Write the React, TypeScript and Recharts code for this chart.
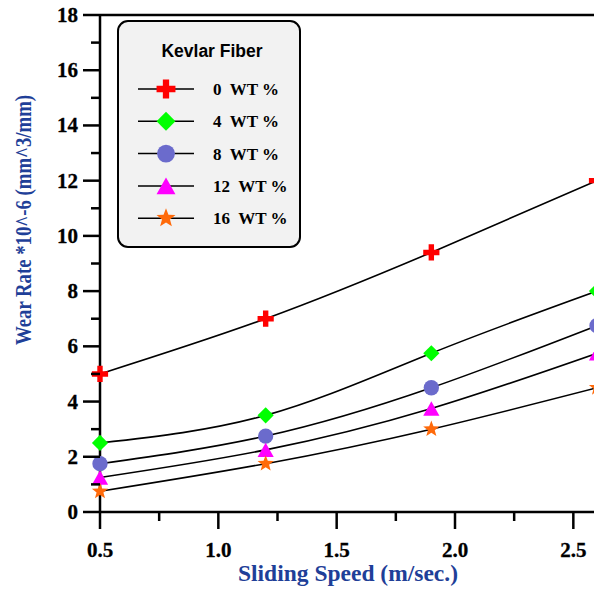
import React from 'react';
import { LineChart, Line, XAxis, YAxis, ReferenceLine, Legend } from 'recharts';

const xValues = [0.5, 1.2, 1.9, 2.6];
const wt0 = [5, 7, 9.4, 12];
const wt4 = [2.5, 3.5, 5.75, 8];
const wt8 = [1.75, 2.75, 4.5, 6.75];
const wt12 = [1.25, 2.25, 3.75, 5.75];
const wt16 = [0.75, 1.75, 3.0, 4.5];
const seriesKeys = ['wt0', 'wt4', 'wt8', 'wt12', 'wt16'];
const seriesNames = ['0  WT %', '4  WT %', '8  WT %', '12  WT %', '16  WT %'];
const seriesColors = ['#ff0000', '#00ff00', '#6b6bcc', '#ff00ff', '#ff6a0a'];
const seriesMarkers = ['cross', 'diamond', 'circle', 'triangle', 'star'];
const xTicks = [0.5, 0.75, 1.0, 1.25, 1.5, 1.75, 2.0, 2.25, 2.5];
const yTicks = [0, 1, 2, 3, 4, 5, 6, 7, 8, 9, 10, 11, 12, 13, 14, 15, 16, 17, 18];
const legendTitle = 'Kevlar Fiber';
const xTitle = 'Sliding Speed (m/sec.)';
const yTitle = 'Wear Rate *10^-6 (mm^3/mm)';

const allSeries = [wt0, wt4, wt8, wt12, wt16];
const data = xValues.map((x, i) => {
  const row: any = { x };
  seriesKeys.forEach((k, j) => { row[k] = allSeries[j][i]; });
  return row;
});

const SERIF = '"Liberation Serif", "Times New Roman", serif';
const SANS = '"Liberation Sans", Arial, sans-serif';
const BLUE = '#1f3f98';

function Marker({ kind, cx, cy, color, s = 1 }: any) {
  if (cx == null || cy == null) return null;
  if (kind === 'cross') {
    const a = 9 * s, t = 3 * s;
    return (
      <path
        d={`M${cx - t},${cy - a}H${cx + t}V${cy - t}H${cx + a}V${cy + t}H${cx + t}V${cy + a}H${cx - t}V${cy + t}H${cx - a}V${cy - t}H${cx - t}Z`}
        fill={color}
      />
    );
  }
  if (kind === 'diamond') {
    const r = 9 * s;
    return <path d={`M${cx},${cy - r}L${cx + r},${cy}L${cx},${cy + r}L${cx - r},${cy}Z`} fill={color} />;
  }
  if (kind === 'circle') {
    return <circle cx={cx} cy={cy} r={8.5 * s} fill={color} />;
  }
  if (kind === 'triangle') {
    const w = 9 * s, h = 8 * s;
    return <path d={`M${cx},${cy - h}L${cx + w},${cy + h}L${cx - w},${cy + h}Z`} fill={color} />;
  }
  const ro = 9.5 * s, ri = 4 * s;
  let d = '';
  for (let i = 0; i < 10; i++) {
    const r = i % 2 === 0 ? ro : ri;
    const ang = -Math.PI / 2 + (i * Math.PI) / 5;
    d += `${i === 0 ? 'M' : 'L'}${cx + r * Math.cos(ang)},${cy + r * Math.sin(ang)}`;
  }
  return <path d={d + 'Z'} fill={color} />;
}

const XTick = (props: any) => {
  const { x, y, payload } = props;
  const v = payload.value;
  const major = Math.abs(v * 2 - Math.round(v * 2)) < 1e-6;
  return (
    <g>
      <line x1={x} x2={x} y1={y} y2={y + (major ? 17 : 9)} stroke="#000" strokeWidth={2.5} />
      {major && (
        <text x={x} y={y + 45} textAnchor="middle" fontFamily={SERIF} fontWeight="bold" fontSize={21} fill="#000" stroke="#000" strokeWidth={0.3}>
          {v.toFixed(1)}
        </text>
      )}
    </g>
  );
};

const YTick = (props: any) => {
  const { x, y, payload } = props;
  const v = payload.value;
  const major = v % 2 === 0;
  return (
    <g>
      <line x1={x - (major ? 17 : 9)} x2={x} y1={y} y2={y} stroke="#000" strokeWidth={2.5} />
      {major && (
        <text x={x - 22} y={y + 7} textAnchor="end" fontFamily={SERIF} fontWeight="bold" fontSize={21} fill="#000" stroke="#000" strokeWidth={0.3}>
          {v}
        </text>
      )}
    </g>
  );
};

const renderLegend = () => (
  <svg width={184} height={228} style={{ display: 'block' }}>
    <rect x={1} y={1} width={182} height={226} rx={10} ry={10} fill="#f2f2f2" stroke="#000" strokeWidth={2} />
    <text x={95} y={37} textAnchor="middle" fontFamily={SANS} fontWeight="bold" fontSize={17.5} fill="#000">
      {legendTitle}
    </text>
    {seriesNames.map((name, i) => {
      const cy = 69 + i * 32.3;
      return (
        <g key={name}>
          <line x1={21} x2={77} y1={cy} y2={cy} stroke="#000" strokeWidth={1.5} />
          <Marker kind={seriesMarkers[i]} cx={49} cy={cy} color={seriesColors[i]} s={1.05} />
          <text x={96} y={cy + 6} fontFamily={SERIF} fontWeight="bold" fontSize={17} fill="#000" style={{ whiteSpace: 'pre' }}>
            {name}
          </text>
        </g>
      );
    })}
  </svg>
);

export default function App() {
  return (
    <div style={{ position: 'absolute', left: 0, top: 0, width: 594, height: 593, overflow: 'hidden', background: '#fff' }}>
      <LineChart width={597} height={593} data={data} margin={{ top: 15, right: 0, bottom: 0, left: 0 }}>
        <XAxis
          dataKey="x"
          type="number"
          domain={[0.5, 2.6]}
          ticks={xTicks}
          interval={0}
          height={81}
          tickSize={0}
          tickMargin={0}
          tickLine={false}
          tick={<XTick />}
          axisLine={{ stroke: '#000', strokeWidth: 2.5 }}
          label={{
            content: () => (
              <text x={348} y={581} textAnchor="middle" fontFamily={SERIF} fontWeight="bold" fontSize={23.5} fill={BLUE}>
                {xTitle}
              </text>
            ),
          }}
        />
        <YAxis
          type="number"
          domain={[0, 18]}
          ticks={yTicks}
          interval={0}
          width={100}
          tickSize={0}
          tickMargin={0}
          tickLine={false}
          tick={<YTick />}
          axisLine={{ stroke: '#000', strokeWidth: 2.5 }}
          label={{
            content: () => (
              <text
                x={23}
                y={220}
                transform="rotate(-90, 23, 220)"
                textAnchor="middle"
                dominantBaseline="central"
                fontFamily={SERIF}
                fontWeight="bold"
                fontSize={23}
                textLength={250}
                lengthAdjust="spacingAndGlyphs"
                fill={BLUE}
              >
                {yTitle}
              </text>
            ),
          }}
        />
        <ReferenceLine y={18} stroke="#000" strokeWidth={2.5} />
        <Legend
          layout="vertical"
          align="center"
          verticalAlign="middle"
          content={renderLegend}
          wrapperStyle={{ left: 117, top: 20, width: 184, height: 228 }}
        />
        {seriesKeys.map((k, i) => (
          <Line
            key={k}
            dataKey={k}
            name={seriesNames[i]}
            type="natural"
            stroke="#000"
            strokeWidth={1.6}
            isAnimationActive={false}
            dot={(p: any) => <Marker key={`${k}-${p.index}`} kind={seriesMarkers[i]} cx={p.cx} cy={p.cy} color={seriesColors[i]} s={0.9} />}
            activeDot={false}
          />
        ))}
      </LineChart>
    </div>
  );
}
